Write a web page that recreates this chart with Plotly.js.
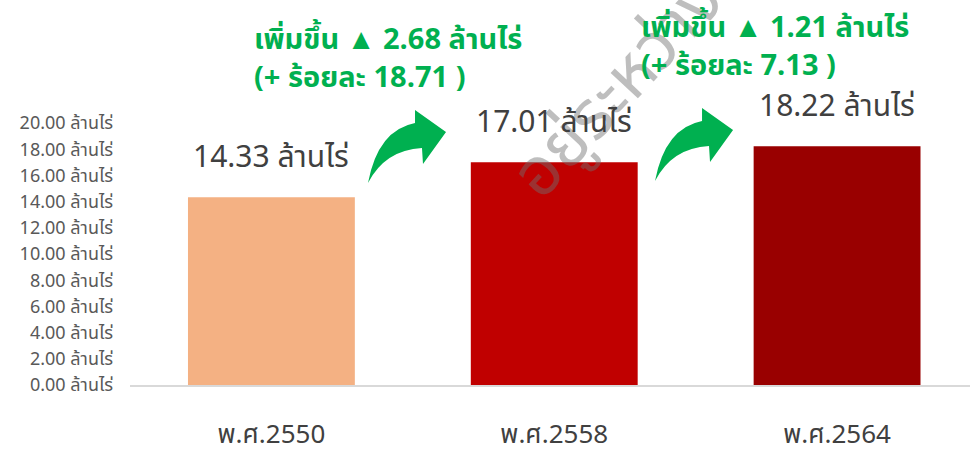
<!DOCTYPE html>
<html>
<head>
<meta charset="utf-8">
<script src="https://cdn.plot.ly/plotly-3.0.1.min.js"></script>
<style>html,body{margin:0;padding:0;background:#fff;}#chart{width:970px;height:456px;}</style>
</head>
<body>
<div id="chart"></div>
<script>
// Data
const categories = ["พ.ศ.2550", "พ.ศ.2558", "พ.ศ.2564"];
const areaValues = [14.33, 17.01, 18.22];
const barColors = ["#F4B183", "#C00000", "#990000"];
const valueLabels = ["14.33 ล้านไร่", "17.01 ล้านไร่", "18.22 ล้านไร่"];
const changeLines1 = ["เพิ่มขึ้น ▲ 2.68 ล้านไร่", "เพิ่มขึ้น ▲ 1.21 ล้านไร่"];
const changeLines2 = ["(+ ร้อยละ 18.71 )", "(+ ร้อยละ 7.13 )"];
const yTicks = [0, 2, 4, 6, 8, 10, 12, 14, 16, 18, 20];
const yTickText = yTicks.map(v => v.toFixed(2) + " ล้านไร่");
const watermark = "อยู่ระหว่างดำเนินการ";

const W = 970, H = 456;
const M = {l: 130, r: 0, t: 123, b: 71};
const pw = W - M.l - M.r, ph = H - M.t - M.b;
const FONT = "'Noto Sans Thai', 'Noto Sans', sans-serif";

function px(x) { return (x - M.l) / pw; }
function py(y) { return (H - M.b - y) / ph; }
function arrowPath(dx, dy) {
  const p = (x, y) => px(x + dx).toFixed(4) + "," + py(y + dy).toFixed(4);
  return "M" + p(368,183) + " Q" + p(378,130) + " " + p(415,123) +
    " L" + p(415,110) + " L" + p(446,132) + " L" + p(423,164) + " L" + p(422,148) +
    " Q" + p(385,150) + " " + p(368,183) + " Z";
}

const trace = {
  type: "bar",
  x: categories,
  y: areaValues,
  marker: {color: barColors},
  hoverinfo: "skip",
  cliponaxis: false
};

const annotations = [];
// watermark first so it is drawn beneath the other texts
annotations.push({x: px(712), y: py(-12), xref: "paper", yref: "paper", xanchor: "center", yanchor: "middle",
  text: watermark, textangle: -47, showarrow: false,
  font: {family: FONT, size: 68, color: "rgba(110,110,110,0.45)"}});
categories.forEach((c, i) => {
  annotations.push({
    x: c, y: areaValues[i], xref: "x", yref: "y",
    text: valueLabels[i], showarrow: false, yanchor: "bottom", yshift: 14,
    font: {family: FONT, size: 30, color: "#404040"}
  });
});
const gx = [252, 639], gy = [59, 47];
changeLines1.forEach((t, i) => {
  annotations.push({x: px(gx[i]), y: py(gy[i]), xref: "paper", yref: "paper", xanchor: "left", yanchor: "middle",
    align: "left", text: "<b>" + t + "<br>" + changeLines2[i] + "</b>", showarrow: false,
    font: {family: FONT, size: 29, color: "#00B050"}});
});

const layout = {
  width: W, height: H,
  margin: M,
  paper_bgcolor: "#fff", plot_bgcolor: "#fff",
  showlegend: false,
  bargap: 0.41,
  xaxis: {
    type: "category", range: [-0.5, 2.47],
    showline: true, linecolor: "#d9d9d9", linewidth: 2,
    showgrid: false, zeroline: false, ticks: "",
    ticklabelstandoff: 25,
    tickfont: {family: FONT, size: 26, color: "#404040"}
  },
  yaxis: {
    range: [0, 20], tickvals: yTicks, ticktext: yTickText,
    showgrid: false, zeroline: false, showline: false, ticks: "",
    ticklabelstandoff: 16,
    tickfont: {family: FONT, size: 18, color: "#595959"}
  },
  shapes: [
    {type: "path", xref: "paper", yref: "paper", path: arrowPath(0, 0), fillcolor: "#00B050", line: {width: 0}, layer: "above"},
    {type: "path", xref: "paper", yref: "paper", path: arrowPath(287, -2), fillcolor: "#00B050", line: {width: 0}, layer: "above"}
  ],
  annotations: annotations
};

Plotly.newPlot("chart", [trace], layout, {staticPlot: true, displayModeBar: false});
</script>
</body>
</html>
